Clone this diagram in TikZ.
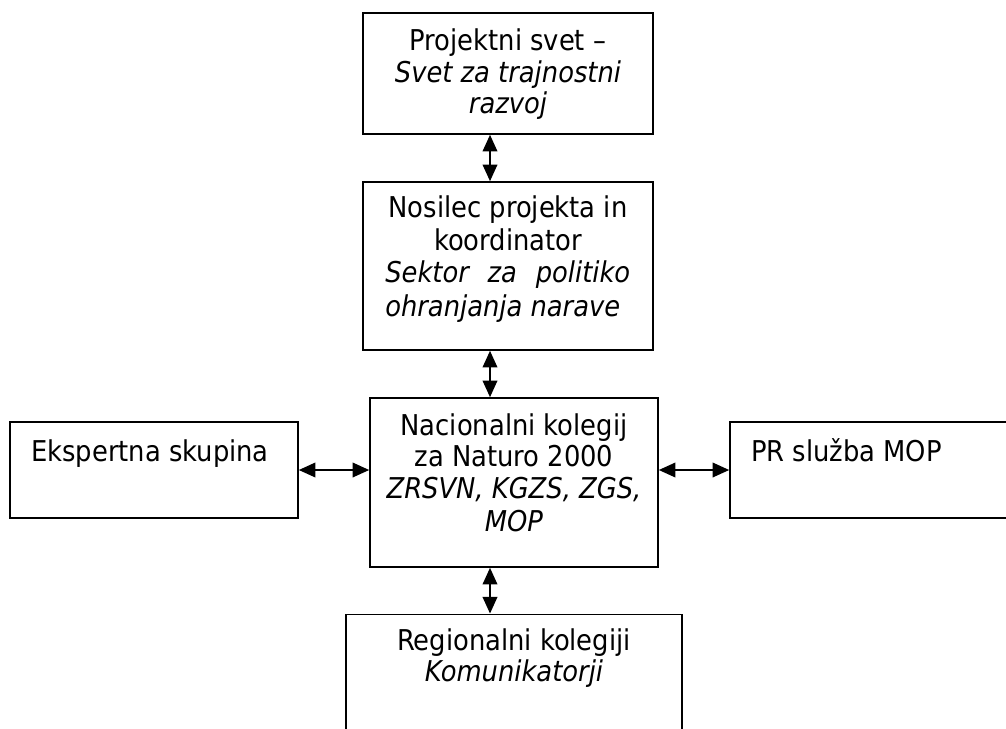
\documentclass[tikz,border=0pt]{standalone}
\usepackage{fontspec}
\setmainfont{DejaVu Sans Condensed}
\usetikzlibrary{arrows.meta}
\tikzset{
  box/.style={draw=black, line width=1.2pt, inner sep=0pt, fill=white},
  txt/.style={anchor=base, inner sep=0pt, font=\fontsize{21.5}{25}\selectfont},
  txtl/.style={txt, anchor=base west},
  arr/.style={line width=1.3pt, {Triangle[length=12.5pt,width=11pt]}-{Triangle[length=12.5pt,width=11pt]}}
}
\begin{document}
\begin{tikzpicture}[x=0.75pt,y=-0.75pt]
\useasboundingbox (0,0) rectangle (1006,728);
\clip (0,0) rectangle (1006,728);
\fill[white] (0,0) rectangle (1006,728);
% boxes
\node[box, minimum width=217.5pt, minimum height=90.75pt] (b1) at (508,73.5) {};
\node[box, minimum width=217.5pt, minimum height=126pt] (b2) at (508,266) {};
\node[box, minimum width=216pt, minimum height=126.75pt] (b3) at (514,482.5) {};
\node[box, minimum width=216pt, minimum height=72pt] (bl) at (154,470) {};
\node[box, minimum width=216pt, minimum height=72pt] (br) at (874,470) {};
\node[box, minimum width=252pt, minimum height=112pt] (bb) at (514,689) {};
\coordinate (ax) at (490,0);
% texts
\node[txt] (t1a) at (508,50) {Projektni svet –};
\node[txt] (t1b) at (508,82) {\itshape Svet za trajnostni};
\node[txt] (t1c) at (508,113) {\itshape razvoj};
\node[txt] (t2a) at (508,217) {Nosilec projekta in};
\node[txt] (t2b) at (508,250) {koordinator};
\node[txtl] (t2c) at (385,282) {\itshape\makebox[183.75pt][s]{Sektor\hfill za\hfill politiko}};
\node[txtl] (t2d) at (385,316) {\itshape ohranjanja narave};
\node[txt] (t3a) at (514,435) {Nacionalni kolegij};
\node[txt] (t3b) at (514,466) {za Naturo 2000};
\node[txt] (t3c) at (514,498) {\itshape ZRSVN, KGZS, ZGS,};
\node[txt] (t3d) at (514,531) {\itshape MOP};
\node[txtl] (tl) at (31,461) {Ekspertna skupina};
\node[txtl] (tr) at (751,461) {PR služba MOP};
\node[txt] (tba) at (514,650) {Regionalni kolegiji};
\node[txt] (tbb) at (514,681) {\itshape Komunikatorji};
% connectors
\draw[arr] (b1.south -| ax) -- (b2.north -| ax);
\draw[arr] (b2.south -| ax) -- (b3.north -| ax);
\draw[arr] (b3.south -| ax) -- (bb.north -| ax);
\draw[arr] (bl.east) -- (bl.east -| b3.west);
\draw[arr] (br.west -| b3.east) -- (br.west);
\end{tikzpicture}
\end{document}
